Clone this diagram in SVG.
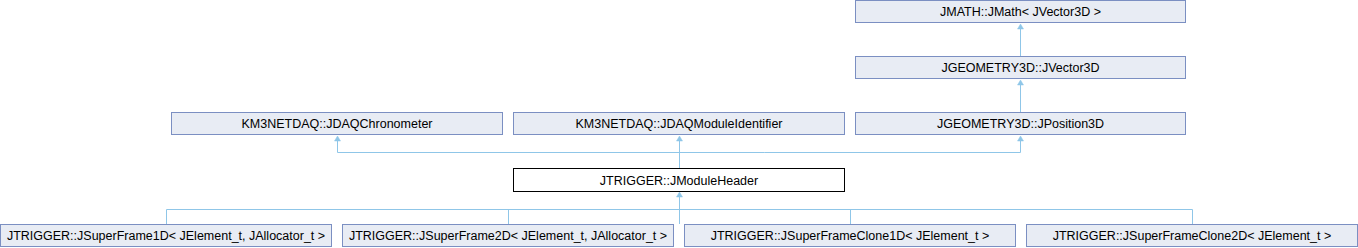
<svg xmlns="http://www.w3.org/2000/svg" width="1358" height="248" viewBox="0 0 1358 248">
<style>
.n rect{fill:#e8ecf4;stroke:#7b8fc2;stroke-width:1}
.n.cur rect{fill:#ffffff;stroke:#000000}
.n text{font-family:"Liberation Sans",Arial,sans-serif;font-size:12.5px;fill:#000;text-anchor:middle}
.e path{fill:none;stroke:#8fc6e8;stroke-width:1}
.e polygon{fill:#8fc6e8;stroke:#8fc6e8;stroke-width:0.5}
</style>
<rect width="1358" height="248" fill="#ffffff"/>
<g id="connectors" class="e">
<path d="M1020.5,57 V29"/>
<polygon points="1020.5,24 1017.5,29 1023.5,29"/>
<path d="M1020.5,113 V85"/>
<polygon points="1020.5,80 1017.5,85 1023.5,85"/>
<path d="M679.5,168 V141 M337.5,141 V152.5 H1020.5 V141"/>
<polygon points="337.5,136 334.5,141 340.5,141"/>
<polygon points="679.5,136 676.5,141 682.5,141"/>
<polygon points="1020.5,136 1017.5,141 1023.5,141"/>
<path d="M679.5,224 V197 M166.5,224 V209.5 H1192.5 V224 M508.5,224 V209.5 M850.5,224 V209.5"/>
<polygon points="679.5,192 676.5,197 682.5,197"/>
</g>
<g id="jmath" class="n"><rect x="855.5" y="0.5" width="330" height="22"/><text x="1020.5" y="16">JMATH::JMath&lt; JVector3D &gt;</text></g>
<g id="jvector3d" class="n"><rect x="855.5" y="56.5" width="330" height="22"/><text x="1020.5" y="72">JGEOMETRY3D::JVector3D</text></g>
<g id="jposition3d" class="n"><rect x="855.5" y="112.5" width="330" height="22"/><text x="1020.5" y="128">JGEOMETRY3D::JPosition3D</text></g>
<g id="chronometer" class="n"><rect x="171.5" y="112.5" width="331" height="22"/><text x="337" y="128">KM3NETDAQ::JDAQChronometer</text></g>
<g id="moduleidentifier" class="n"><rect x="513.5" y="112.5" width="331" height="22"/><text x="679" y="128">KM3NETDAQ::JDAQModuleIdentifier</text></g>
<g id="moduleheader" class="n cur"><rect x="513.5" y="168.5" width="331" height="23"/><text x="679" y="184.5">JTRIGGER::JModuleHeader</text></g>
<g id="superframe1d" class="n"><rect x="0.5" y="224.5" width="331" height="22"/><text x="166" y="240">JTRIGGER::JSuperFrame1D&lt; JElement_t, JAllocator_t &gt;</text></g>
<g id="superframe2d" class="n"><rect x="342.5" y="224.5" width="331" height="22"/><text x="508" y="240">JTRIGGER::JSuperFrame2D&lt; JElement_t, JAllocator_t &gt;</text></g>
<g id="superframeclone1d" class="n"><rect x="684.5" y="224.5" width="331" height="22"/><text x="850" y="240">JTRIGGER::JSuperFrameClone1D&lt; JElement_t &gt;</text></g>
<g id="superframeclone2d" class="n"><rect x="1026.5" y="224.5" width="331" height="22"/><text x="1192" y="240">JTRIGGER::JSuperFrameClone2D&lt; JElement_t &gt;</text></g>
</svg>
